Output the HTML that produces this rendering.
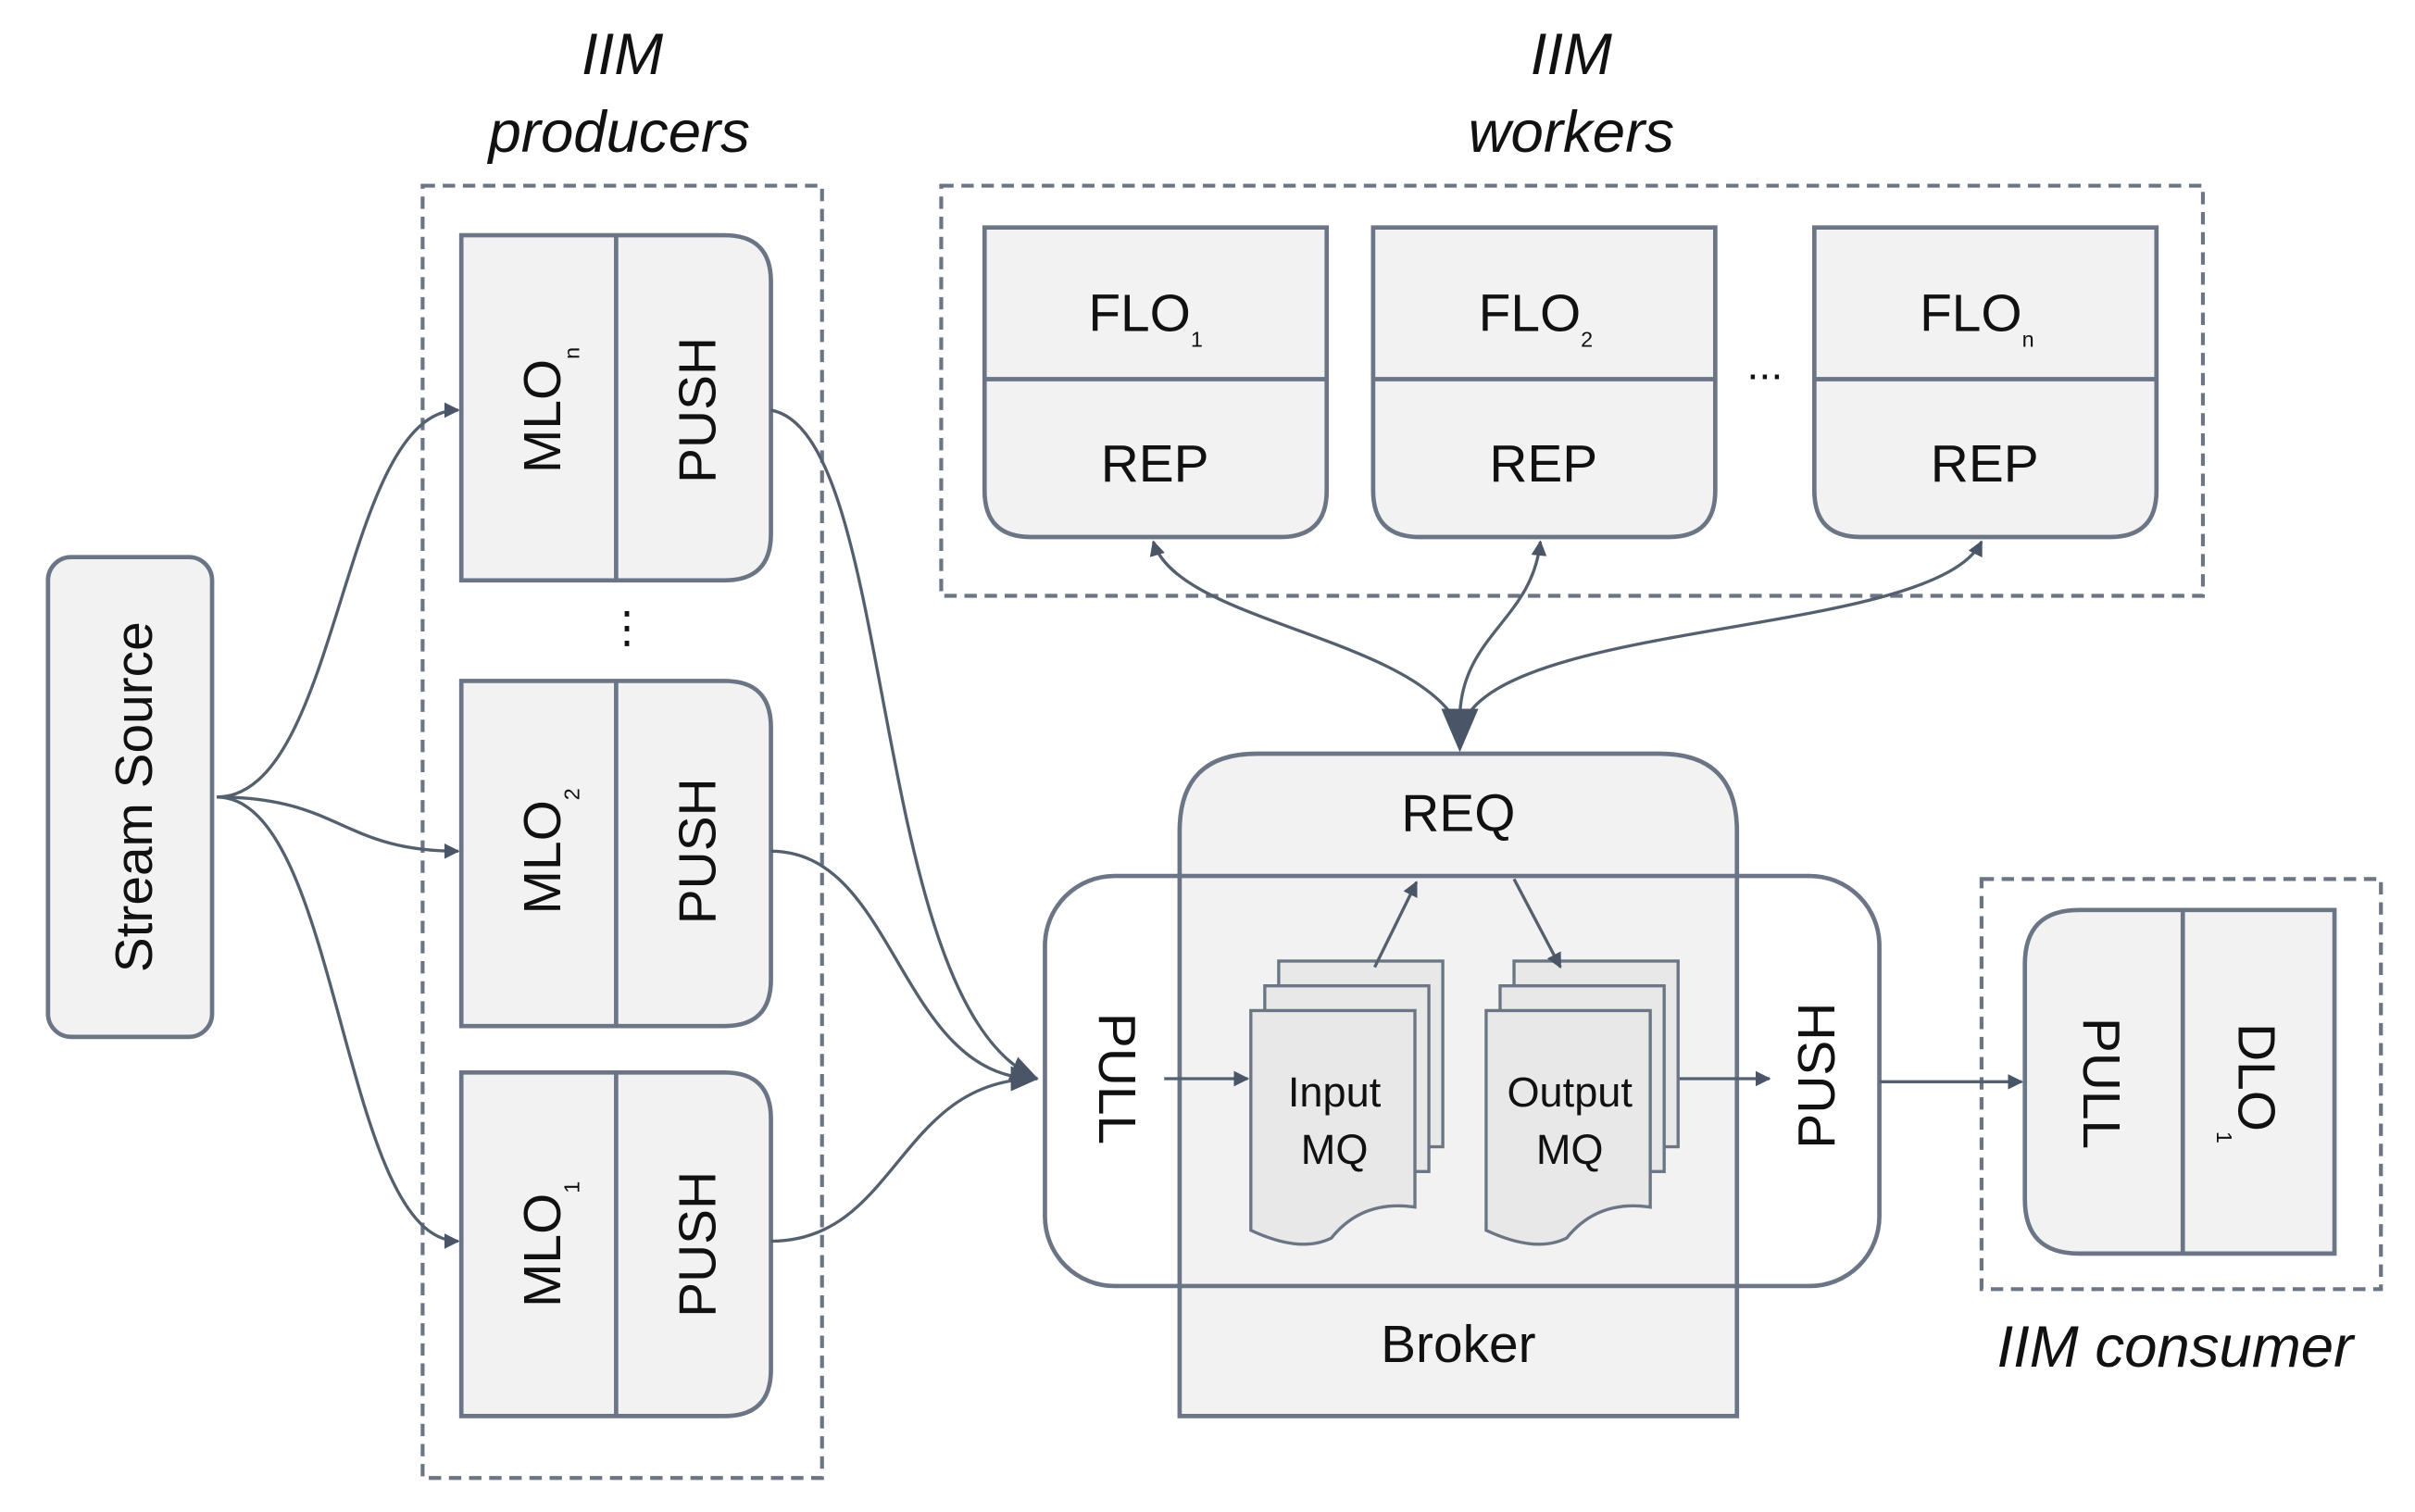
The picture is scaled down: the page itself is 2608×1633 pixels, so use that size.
<!DOCTYPE html>
<html><head><meta charset="utf-8"><style>html,body{margin:0;padding:0;background:#fff}svg{display:block}</style></head>
<body>
<svg width="2608" height="1633" viewBox="0 0 1560 977" preserveAspectRatio="none" xmlns="http://www.w3.org/2000/svg" font-family="'Liberation Sans', 'DejaVu Sans', sans-serif">
<defs>
<marker id="a" markerWidth="10" markerHeight="10" refX="9" refY="5" orient="auto" markerUnits="userSpaceOnUse"><path d="M0,0 L10,5 L0,10 z" fill="#4a5568"/></marker>
<marker id="b" markerWidth="18" markerHeight="16" refX="17" refY="8" orient="auto" markerUnits="userSpaceOnUse"><path d="M0,0 L18,8 L0,16 z" fill="#4a5568"/></marker>
</defs>
<g fill="#111" font-style="italic" font-size="38" text-anchor="middle">
<text x="402" y="48">IIM</text><text x="400" y="98">producers</text>
<text x="1015" y="48">IIM</text><text x="1015" y="98">workers</text>
<text x="1405" y="883">IIM consumer</text>
</g>
<g fill="none" stroke="#6b7585" stroke-width="2.5" stroke-dasharray="8,5">
<rect x="273" y="120" width="258" height="835"/>
<rect x="608" y="120" width="815" height="265"/>
<rect x="1280" y="568" width="258" height="265"/>
</g>
<g fill="#f2f2f2" stroke="#6b7585" stroke-width="2.8">
<rect x="31" y="360" width="106" height="310" rx="15"/>
<path d="M298,152 H468 Q498,152 498,182 V345 Q498,375 468,375 H298 Z"/>
<path d="M298,440 H468 Q498,440 498,470 V633 Q498,663 468,663 H298 Z"/>
<path d="M298,693 H468 Q498,693 498,723 V885 Q498,915 468,915 H298 Z"/>
<line x1="398" y1="152" x2="398" y2="375"/><line x1="398" y1="440" x2="398" y2="663"/><line x1="398" y1="693" x2="398" y2="915"/>
<path d="M636,147 H857 V317 Q857,347 827,347 H666 Q636,347 636,317 Z"/>
<path d="M887,147 H1108 V317 Q1108,347 1078,347 H917 Q887,347 887,317 Z"/>
<path d="M1172,147 H1393 V317 Q1393,347 1363,347 H1202 Q1172,347 1172,317 Z"/>
<line x1="636" y1="245" x2="857" y2="245"/><line x1="887" y1="245" x2="1108" y2="245"/><line x1="1172" y1="245" x2="1393" y2="245"/>
<path d="M762,915 V537 Q762,487 812,487 H1072 Q1122,487 1122,537 V915 Z"/>
<rect x="675" y="566" width="539" height="265" rx="45" fill="none"/>
<path d="M1343,588 H1508 V810 H1343 Q1308,810 1308,775 V623 Q1308,588 1343,588 Z"/>
<line x1="1410" y1="588" x2="1410" y2="810"/>
</g>
<g fill="#e8e8e8" stroke="#6b7585" stroke-width="2">
<rect x="826" y="621" width="106" height="120"/>
<rect x="817" y="637" width="106" height="120"/>
<path d="M808,653 H914 V780 Q880,775 860,800 Q840,810 808,795 Z"/>
<rect x="978" y="621" width="106" height="120"/>
<rect x="969" y="637" width="106" height="120"/>
<path d="M960,653 H1066 V780 Q1032,775 1012,800 Q992,810 960,795 Z"/>
</g>
<g fill="#111" font-size="34" text-anchor="middle">
<text transform="translate(98,515) rotate(-90)">Stream Source</text>
<text transform="translate(362,265) rotate(-90)">MLO<tspan font-size="14" dy="12">n</tspan></text>
<text transform="translate(462,265) rotate(-90)">PUSH</text>
<text transform="translate(362,550) rotate(-90)">MLO<tspan font-size="14" dy="12">2</tspan></text>
<text transform="translate(462,550) rotate(-90)">PUSH</text>
<text transform="translate(362,804) rotate(-90)">MLO<tspan font-size="14" dy="12">1</tspan></text>
<text transform="translate(462,804) rotate(-90)">PUSH</text>
<text x="405" y="415" font-size="28">⋮</text>
<text x="740" y="214">FLO<tspan font-size="14" dy="10">1</tspan></text>
<text x="746" y="311">REP</text>
<text x="992" y="214">FLO<tspan font-size="14" dy="10">2</tspan></text>
<text x="997" y="311">REP</text>
<text x="1277" y="214">FLO<tspan font-size="14" dy="10">n</tspan></text>
<text x="1282" y="311">REP</text>
<text x="1140" y="245" font-size="28">...</text>
<text x="942" y="537">REQ</text>
<text x="942" y="880">Broker</text>
<text transform="translate(710,697) rotate(90)">PULL</text>
<text transform="translate(1185,695) rotate(-90)">PUSH</text>
<text transform="translate(1346,700) rotate(90)">PULL</text>
<text transform="translate(1446,700) rotate(90)">DLO<tspan font-size="14" dy="14">1</tspan></text>
<text x="862" y="715" font-size="27">Input</text><text x="862" y="752" font-size="27">MQ</text>
<text x="1014" y="715" font-size="27">Output</text><text x="1014" y="752" font-size="27">MQ</text>
</g>
<g fill="none" stroke="#55606f" stroke-width="2">
<path d="M140,515 C220,515 220,265 296,265" marker-end="url(#a)"/>
<path d="M140,515 C220,515 220,550 296,550" marker-end="url(#a)"/>
<path d="M140,515 C220,515 220,802 296,802" marker-end="url(#a)"/>
<path d="M498,265 C580,280 560,650 670,697" marker-end="url(#b)"/>
<path d="M498,550 C580,550 580,697 670,697" marker-end="url(#b)"/>
<path d="M498,802 C580,802 580,697 670,697" marker-end="url(#b)"/>
<path d="M752,697 H806" marker-end="url(#a)"/>
<path d="M1085,697 H1143" marker-end="url(#a)"/>
<path d="M1214,699 H1306" marker-end="url(#a)"/>
<path d="M888,625 L915,570" marker-end="url(#a)"/>
<path d="M978,568 L1008,625" marker-end="url(#a)"/>
<path d="M938,462 C900,410 760,400 745,350" marker-end="url(#a)"/>
<path d="M943,462 C945,410 990,400 995,350" marker-end="url(#a)"/>
<path d="M948,462 C990,400 1250,410 1280,350" marker-end="url(#a)"/>
</g>
<polygon points="931,458 955,458 943,486" fill="#4a5568"/>
</svg>
</body></html>
